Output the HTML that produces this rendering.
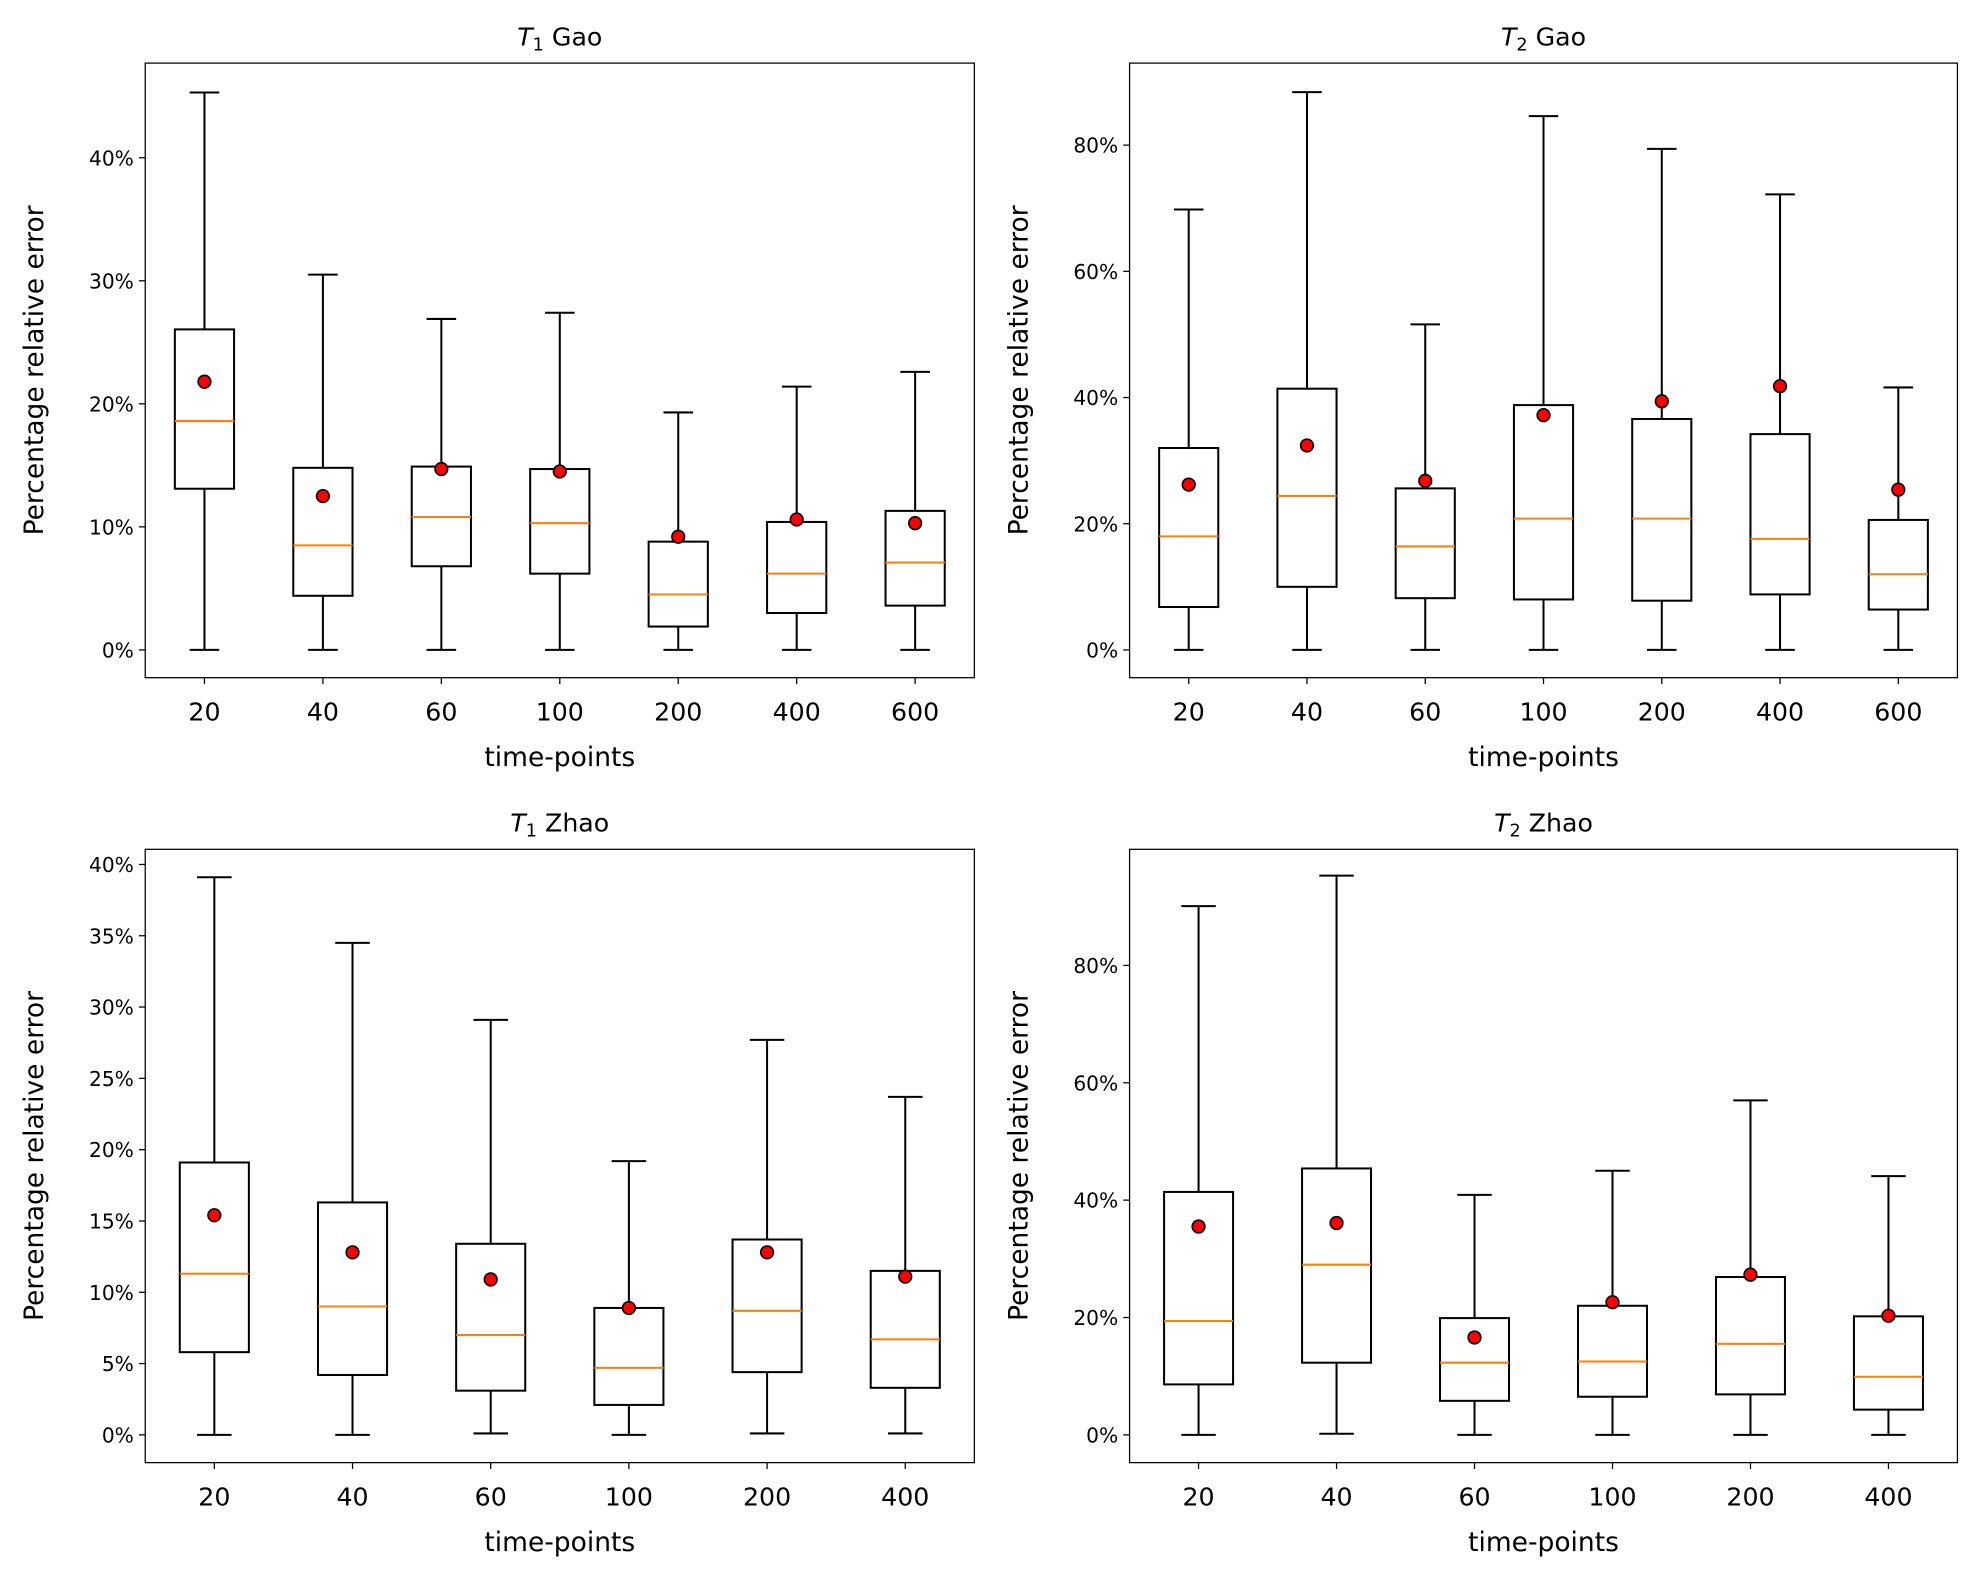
<!DOCTYPE html>
<html><head><meta charset="utf-8"><style>
html,body{margin:0;padding:0;background:#fff;}
svg{display:block;font-family:"DejaVu Sans","Liberation Sans",sans-serif;}
</style></head><body>
<svg id="fig" width="1979" height="1580" viewBox="0 0 1568 1252" xmlns="http://www.w3.org/2000/svg"></svg>
<script>
const catsA = ["20","40","60","100","200","400","600"];
const catsB = ["20","40","60","100","200","400"];
const t1gaoHigh = [45.3,30.5,26.9,27.4,19.3,21.4,22.6];
const t1gaoQ3   = [26.05,14.8,14.9,14.7,8.8,10.4,11.3];
const t1gaoMed  = [18.6,8.5,10.8,10.3,4.5,6.2,7.1];
const t1gaoQ1   = [13.1,4.4,6.8,6.2,1.9,3.0,3.6];
const t1gaoLow  = [0,0,0,0,0,0,0];
const t1gaoMean = [21.8,12.5,14.7,14.5,9.2,10.6,10.3];

const t2gaoHigh = [69.8,88.4,51.6,84.6,79.4,72.2,41.6];
const t2gaoQ3   = [32,41.4,25.6,38.8,36.6,34.2,20.6];
const t2gaoMed  = [18,24.4,16.4,20.8,20.8,17.6,12];
const t2gaoQ1   = [6.8,10,8.2,8,7.8,8.8,6.4];
const t2gaoLow  = [0,0,0,0,0,0,0];
const t2gaoMean = [26.2,32.4,26.8,37.2,39.4,41.8,25.4];

const t1zhaoHigh = [39.1,34.5,29.1,19.2,27.7,23.7];
const t1zhaoQ3   = [19.1,16.3,13.4,8.9,13.7,11.5];
const t1zhaoMed  = [11.3,9.0,7.0,4.7,8.7,6.7];
const t1zhaoQ1   = [5.8,4.2,3.1,2.1,4.4,3.3];
const t1zhaoLow  = [0,0,0.1,0,0.1,0.1];
const t1zhaoMean = [15.4,12.8,10.9,8.9,12.8,11.1];

const t2zhaoHigh = [90.1,95.3,40.9,45,57,44.1];
const t2zhaoQ3   = [41.4,45.4,19.9,22,26.9,20.2];
const t2zhaoMed  = [19.4,29.0,12.3,12.5,15.5,9.9];
const t2zhaoQ1   = [8.6,12.3,5.8,6.5,6.9,4.3];
const t2zhaoLow  = [0,0.2,0,0,0,0];
const t2zhaoMean = [35.5,36.1,16.6,22.6,27.3,20.3];

const ticksA = [0,10,20,30,40];
const ticksB = [0,20,40,60,80];
const ticksC = [0,5,10,15,20,25,30,35,40];
const ticksD = [0,20,40,60,80];

const NS="http://www.w3.org/2000/svg";
const fig=document.getElementById('fig');
function mk(tag,attrs,parent,text){const e=document.createElementNS(NS,tag);for(const k in attrs)e.setAttribute(k,attrs[k]);if(text!==undefined)e.textContent=text;(parent||fig).appendChild(e);return e;}

function panel(o){
  const g=mk('g',{});
  
  
  const n=o.cats.length;
  const step=(o.x1-o.x0)/n;
  const xs=i=>o.x0+step*(0.5+i);
  const ys=v=>o.zeroY-v*o.pxPer;
  const bw=step*0.5, cw=bw*0.5;
  for(let i=0;i<n;i++){
    const cx=xs(i);
    const bg=mk('g',{},g);
    
    
    const st={stroke:'#000','stroke-width':1.6,fill:'none'};
    mk('line',Object.assign({x1:cx,x2:cx,y1:ys(o.high[i]),y2:ys(o.q3[i])},st),bg);
    mk('line',Object.assign({x1:cx,x2:cx,y1:ys(o.q1[i]),y2:ys(o.low[i])},st),bg);
    mk('line',Object.assign({x1:cx-cw/2,x2:cx+cw/2,y1:ys(o.high[i]),y2:ys(o.high[i])},st),bg);
    mk('line',Object.assign({x1:cx-cw/2,x2:cx+cw/2,y1:ys(o.low[i]),y2:ys(o.low[i])},st),bg);
    mk('rect',Object.assign({x:cx-bw/2,y:ys(o.q3[i]),width:bw,height:ys(o.q1[i])-ys(o.q3[i])},st),bg);
    mk('line',{x1:cx-bw/2,x2:cx+bw/2,y1:ys(o.med[i]),y2:ys(o.med[i]),stroke:'#ff7f0e','stroke-width':1.6},bg);
    const c=mk('circle',{cx:cx,cy:ys(o.mean[i]),r:5,fill:'#ff0000',stroke:'#000','stroke-width':1.3},bg);
    
    
  }
  const fr=mk('rect',{x:o.x0,y:o.y0,width:o.x1-o.x0,height:o.y1-o.y0,fill:'none',stroke:'#000','stroke-width':1},g);
  
  
  for(let i=0;i<n;i++){
    const cx=xs(i);
    mk('line',{x1:cx,x2:cx,y1:o.y1,y2:o.y1+5,stroke:'#000','stroke-width':1},g);
    const t=mk('text',{x:cx,y:o.y1+34,'text-anchor':'middle','font-size':20},g,o.cats[i]);
    
    
  }
  for(const v of o.ticks){
    const y=ys(v);
    mk('line',{x1:o.x0-5,x2:o.x0,y1:y,y2:y,stroke:'#000','stroke-width':1},g);
    const t=mk('text',{x:o.x0-9,y:y+6,'text-anchor':'end','font-size':16},g,v+'%');
    
    
  }
  const xl=mk('text',{x:(o.x0+o.x1)/2,y:o.y1+70,'text-anchor':'middle','font-size':21},g,'time-points');
  
  
  const yc=(o.y0+o.y1)/2, lx=o.x0-81;
  const yl=mk('text',{x:lx,y:yc,'text-anchor':'middle','font-size':21,transform:'rotate(-90 '+lx+' '+yc+')'},g,'Percentage relative error');
  
  
  const ti=mk('text',{x:(o.x0+o.x1)/2,y:o.y0-14,'text-anchor':'middle','font-size':20},g);
  
  
  mk('tspan',{'font-style':'italic'},ti,'T');
  mk('tspan',{'font-size':14,dy:4},ti,o.sub);
  mk('tspan',{dy:-4},ti,' '+o.label);
}

panel({name:'panel-t1-gao',x0:115,x1:772,y0:50,y1:537,zeroY:515,pxPer:9.75,cats:catsA,ticks:ticksA,sub:'1',label:'Gao',
  high:t1gaoHigh,q3:t1gaoQ3,med:t1gaoMed,q1:t1gaoQ1,low:t1gaoLow,mean:t1gaoMean});
panel({name:'panel-t2-gao',x0:895,x1:1551,y0:50,y1:537,zeroY:515,pxPer:5.0,cats:catsA,ticks:ticksB,sub:'2',label:'Gao',
  high:t2gaoHigh,q3:t2gaoQ3,med:t2gaoMed,q1:t2gaoQ1,low:t2gaoLow,mean:t2gaoMean});
panel({name:'panel-t1-zhao',x0:115,x1:772,y0:673,y1:1159,zeroY:1137,pxPer:11.3,cats:catsB,ticks:ticksC,sub:'1',label:'Zhao',
  high:t1zhaoHigh,q3:t1zhaoQ3,med:t1zhaoMed,q1:t1zhaoQ1,low:t1zhaoLow,mean:t1zhaoMean});
panel({name:'panel-t2-zhao',x0:895,x1:1551,y0:673,y1:1159,zeroY:1137,pxPer:4.65,cats:catsB,ticks:ticksD,sub:'2',label:'Zhao',
  high:t2zhaoHigh,q3:t2zhaoQ3,med:t2zhaoMed,q1:t2zhaoQ1,low:t2zhaoLow,mean:t2zhaoMean});
</script>
</body></html>
